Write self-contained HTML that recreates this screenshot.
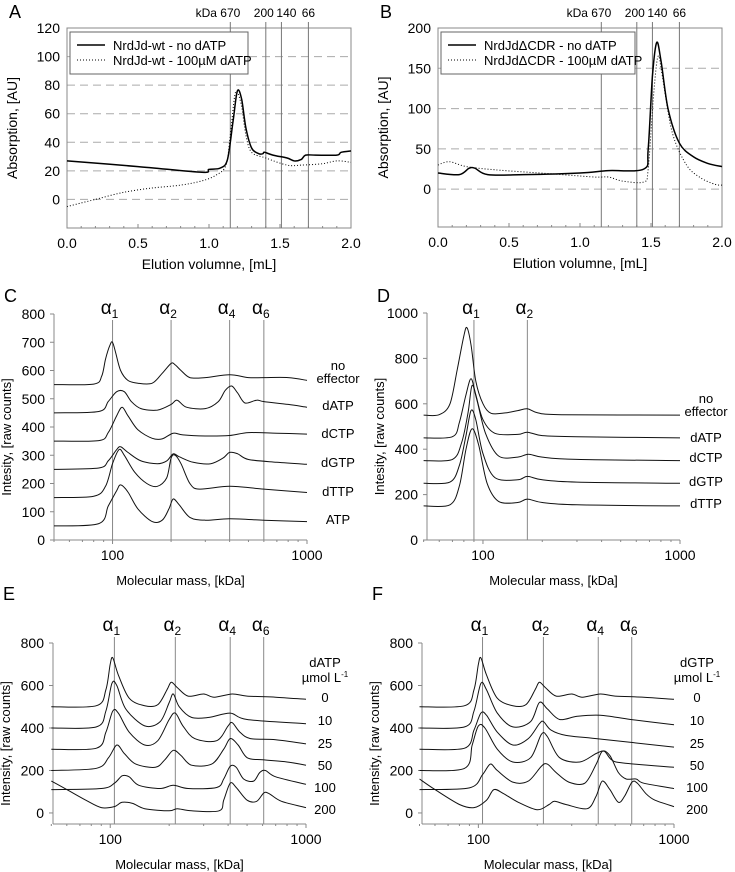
<!DOCTYPE html>
<html><head><meta charset="utf-8"><style>
html,body{margin:0;padding:0;background:#fff;}
svg{display:block;font-family:"Liberation Sans",sans-serif;}
</style></head><body>
<svg id="fig" width="735" height="872" viewBox="0 0 735 872" xmlns="http://www.w3.org/2000/svg"></svg>
<script>
// ---------- DATA ----------
// Panel A (elution volume mL, absorption AU)
const aSolidX=[0,0.5,0.95,1.0,1.08,1.13,1.17,1.2,1.23,1.26,1.3,1.35,1.38,1.39,1.45,1.55,1.6,1.65,1.68,1.75,1.9,1.93,2.0];
const aSolidY=[27,23,19,21,22,28,55,76,70,50,36,32,32,33,31,29,27,28,31,31,31,33,34];
const aDotX=[0,0.2,0.4,0.6,0.8,0.95,1.05,1.12,1.15,1.18,1.2,1.23,1.26,1.3,1.4,1.55,1.65,1.8,1.9,2.0];
const aDotY=[-5,0,5,8,10,13,17,24,45,72,75,65,45,33,29,24,24,25,27,26];
// Panel B
const bSolidX=[0,0.15,0.22,0.26,0.35,0.6,1.0,1.2,1.45,1.48,1.51,1.54,1.57,1.62,1.7,1.8,1.9,2.0];
const bSolidY=[20,18,26,26,18,18,20,23,25,50,140,182,160,100,57,40,32,28];
const bDotX=[0,0.08,0.2,0.4,0.8,1.1,1.2,1.3,1.45,1.48,1.52,1.55,1.58,1.65,1.75,1.85,1.95,2.0];
const bDotY=[30,34,28,24,19,15,15,10,9,25,120,165,140,70,30,14,6,5];
const markerVol=[1.15,1.40,1.51,1.70];
const markerLbl=["670","200","140","66"];
// Panel C (mass kDa, intensity)
const cLabels=["no effector","dATP","dCTP","dGTP","dTTP","ATP"];
const cMass=[
[50,80,88,92,97,100,104,110,120,135,160,180,200,210,225,250,300,400,500,600,800,1000],
[50,85,95,105,115,125,140,170,200,215,240,300,350,380,410,440,480,550,600,800,1000],
[50,85,95,105,112,120,135,160,180,205,230,300,400,500,700,1000],
[50,85,95,105,110,120,140,170,190,205,220,260,320,370,400,440,500,700,1000],
[50,80,92,100,108,115,130,150,170,190,200,210,225,250,280,400,600,1000],
[50,85,95,105,110,120,135,160,180,195,205,220,250,300,400,600,1000]];
const cInt=[
[550,552,580,640,690,700,660,600,565,555,555,590,625,620,600,575,575,585,575,575,575,565],
[450,455,490,525,525,490,465,460,480,495,470,465,490,530,545,520,485,495,490,480,470],
[350,352,380,440,470,440,390,360,358,378,372,368,370,380,378,375],
[250,255,280,320,330,310,280,270,280,305,295,275,270,290,310,305,285,275,268],
[150,155,190,270,320,300,240,200,190,220,290,300,270,200,180,190,180,168],
[50,58,120,175,195,170,110,65,70,110,145,125,80,70,75,70,65]];
const cAlpha=[100,200,400,600];
// Panel D
const dLabels=["no effector","dATP","dCTP","dGTP","dTTP"];
const dMass=[
[50,60,68,74,80,83,87,92,100,110,130,150,168,190,250,1000],
[50,70,76,82,87,92,100,115,150,168,200,300,1000],
[50,70,78,84,88,93,103,120,150,170,200,300,1000],
[50,68,76,82,87,92,100,115,150,168,200,300,1000],
[50,68,76,82,88,95,105,120,150,168,200,300,1000]];
const dInt=[
[550,552,600,750,900,935,860,700,600,558,560,570,578,560,552,550],
[450,455,520,640,710,640,530,470,465,475,460,455,450],
[350,355,430,560,680,620,470,370,365,378,365,355,350],
[250,255,330,460,570,530,380,275,265,280,265,255,250],
[150,155,240,400,490,420,250,170,165,180,165,155,150]];
const dAlpha=[90,168];
// Panel E (dATP titration)
const eLabels=["0","10","25","50","100","200"];
const eMass=[
[50,85,95,100,103,110,125,150,175,195,205,220,250,300,340,420,500,700,1000],
[50,85,95,102,108,120,150,180,200,210,225,260,320,410,500,1000],
[50,85,95,103,110,125,150,175,200,215,235,270,350,400,420,460,520,700,1000],
[50,85,98,108,118,135,170,190,210,230,260,330,380,410,450,500,600,800,1000],
[50,90,105,115,125,140,180,210,250,350,380,410,440,480,540,580,620,700,1000],
[50,60,75,90,105,115,130,150,200,220,260,360,380,410,440,500,560,610,650,750,1000]];
const eInt=[
[500,505,580,700,730,650,540,505,510,580,615,590,550,560,545,560,550,545,535],
[400,405,480,610,600,490,410,430,520,560,500,450,450,470,440,420],
[300,305,380,480,470,380,320,340,440,470,410,350,340,410,425,380,350,345,325],
[200,210,260,320,280,230,215,250,295,270,225,230,300,350,320,260,250,240,225],
[110,115,140,175,170,130,115,130,115,120,160,220,215,160,150,190,200,170,135],
[150,110,60,25,30,50,45,20,10,20,10,10,60,140,120,60,55,95,90,55,25]];
// Panel F (dGTP titration)
const fMass=[
[50,85,95,100,103,110,125,150,175,195,205,220,250,300,340,420,500,700,1000],
[50,85,95,103,110,125,150,185,205,225,260,320,420,600,1000],
[50,85,95,103,110,125,150,180,205,215,235,280,400,1000],
[50,85,93,100,108,125,150,185,210,225,260,330,400,440,480,550,1000],
[50,90,105,115,125,150,180,210,225,250,290,350,400,430,470,520,570,640,700,1000],
[50,60,80,95,110,120,135,160,200,230,245,280,360,400,430,470,520,560,610,650,720,800,1000]];
const fInt=[
[500,505,580,700,730,650,540,505,510,580,615,590,550,560,545,560,550,545,535],
[400,405,480,610,580,470,405,430,520,490,440,455,460,440,415],
[300,305,390,470,460,380,320,350,420,430,390,365,350,310],
[200,210,320,410,400,300,240,260,370,360,260,240,280,290,250,235,215],
[110,118,180,230,200,145,150,220,230,190,145,140,230,290,270,190,160,160,140,115],
[160,110,40,25,60,110,90,50,15,40,55,40,20,80,150,110,50,80,145,140,90,60,30]];
const eAlpha=[105,215,410,608];

// ---------- HELPERS ----------
const NS="http://www.w3.org/2000/svg";
const svg=document.getElementById('fig');
function el(tag,attrs,parent){const e=document.createElementNS(NS,tag);for(const k in attrs)e.setAttribute(k,attrs[k]);(parent||svg).appendChild(e);return e;}
function txt(x,y,s,size,anchor,parent){const t=el('text',{x:x,y:y,'font-size':size,'text-anchor':anchor||'middle',fill:'#000'},parent);t.textContent=s;return t;}
function linScale(d0,d1,r0,r1){return v=>r0+(v-d0)/(d1-d0)*(r1-r0);}
function logScale(d0,d1,r0,r1){return v=>r0+(Math.log10(v)-Math.log10(d0))/(Math.log10(d1)-Math.log10(d0))*(r1-r0);}
// smooth path (cardinal spline through data points)
function pathD(xs,ys,sx,sy){
  const P=xs.map((v,i)=>[sx(v),sy(ys[i])]);
  let d='M'+P[0][0].toFixed(1)+','+P[0][1].toFixed(1);
  const k=0.16;
  for(let i=0;i<P.length-1;i++){
    const p0=P[i-1]||P[i],p1=P[i],p2=P[i+1],p3=P[i+2]||P[i+1];
    const c1=[p1[0]+(p2[0]-p0[0])*k,p1[1]+(p2[1]-p0[1])*k];
    const c2=[p2[0]-(p3[0]-p1[0])*k,p2[1]-(p3[1]-p1[1])*k];
    d+='C'+c1[0].toFixed(1)+','+c1[1].toFixed(1)+' '+c2[0].toFixed(1)+','+c2[1].toFixed(1)+' '+p2[0].toFixed(1)+','+p2[1].toFixed(1);
  }
  return d;
}

// ---------- SEC PANELS A/B ----------
function secPanel(o){
  const g=el('g',{});
  
  
  const sx=linScale(0,2,o.x0,o.x1), sy=linScale(o.ymin,o.ymax,o.y1,o.y0);
  txt(o.x0-58,18,o.letter,18,'start',g);
  o.yticks.forEach(v=>{
    if(v>o.ymin && v<o.ymax) {const l=el('line',{x1:o.x0,x2:o.x1,y1:sy(v),y2:sy(v),stroke:'#aaa','stroke-dasharray':'8,5','stroke-width':1},g);
    }
    txt(o.x0-7,sy(v)+5,String(v),14,'end',g);
  });
  const fr=el('rect',{x:o.x0,y:o.y0,width:o.x1-o.x0,height:o.y1-o.y0,fill:'none',stroke:'#888','stroke-width':1},g);
  
  for(let i=0;i<=20;i++){const x=sx(i*0.1);el('line',{x1:x,x2:x,y1:o.y1,y2:o.y1-(i%5?2:4),stroke:'#888'},g);}
  [0,0.5,1,1.5,2].forEach(v=>txt(sx(v),o.y1+20,v.toFixed(1),14,'middle',g));
  txt((o.x0+o.x1)/2,o.y1+41,'Elution volumne, [mL]',14,'middle',g);
  const yt=txt(0,0,'Absorption, [AU]',14,'middle',g);
  yt.setAttribute('transform','translate('+(o.x0-50)+','+((o.y0+o.y1)/2)+') rotate(-90)');
  
  txt(sx(markerVol[0])-24,17,'kDa',12,'middle',g);
  const off=[0,-2,5,0];
  markerVol.forEach((v,i)=>{
    const l=el('line',{x1:sx(v),x2:sx(v),y1:o.y0-6,y2:o.y1,stroke:'#777','stroke-width':1},g);
    
    txt(sx(v)+off[i],17,markerLbl[i],12,'middle',g);
  });
  const p1=el('path',{d:pathD(o.sX,o.sY,sx,sy),fill:'none',stroke:'#000','stroke-width':1.5},g);
  
  const p2=el('path',{d:pathD(o.dX,o.dY,sx,sy),fill:'none',stroke:'#000','stroke-width':1,'stroke-dasharray':'1,2'},g);
  
  const lg=el('g',{},g);
  
  el('rect',{x:o.lx,y:32,width:o.lw,height:42,fill:'#fff',stroke:'#666'},lg);
  el('line',{x1:o.lx+7,x2:o.lx+35,y1:45,y2:45,stroke:'#000','stroke-width':1.5},lg);
  el('line',{x1:o.lx+7,x2:o.lx+35,y1:60,y2:60,stroke:'#000','stroke-dasharray':'1,2'},lg);
  txt(o.lx+43,50,o.leg[0],13,'start',lg);
  txt(o.lx+43,65,o.leg[1],13,'start',lg);
}
secPanel({name:'panel-a',letter:'A',x0:67,x1:351,y0:28,y1:228,ymin:-20,ymax:120,yticks:[0,20,40,60,80,100,120],
  sX:aSolidX,sY:aSolidY,dX:aDotX,dY:aDotY,lx:70,lw:178,leg:['NrdJd-wt - no dATP','NrdJd-wt - 100µM dATP']});
secPanel({name:'panel-b',letter:'B',x0:438,x1:722,y0:28,y1:227,ymin:-47,ymax:200,yticks:[0,50,100,150,200],
  sX:bSolidX,sY:bSolidY,dX:bDotX,dY:bDotY,lx:441,lw:194,leg:['NrdJd\u0394CDR - no dATP','NrdJd\u0394CDR - 100µM dATP']});

// ---------- MASS PANELS ----------
function massPanel(o){
  const g=el('g',{});
  
  
  const sx=logScale(o.m0,1000,o.x0,o.x1), sy=linScale(o.ymin,o.ymax,o.y1,o.yTop);
  txt(o.x0-50,o.letterY,o.letter,18,'start',g);
  el('line',{x1:o.x0,x2:o.x0,y1:o.yTop,y2:o.y1,stroke:'#888'},g);
  el('line',{x1:o.x0,x2:o.x1,y1:o.y1,y2:o.y1,stroke:'#888'},g);
  o.yticks.forEach(v=>{el('line',{x1:o.x0-4,x2:o.x0,y1:sy(v),y2:sy(v),stroke:'#888'},g);txt(o.x0-9,sy(v)+5,String(v),14,'end',g);});
  for(let d=50;d<=1000;d+= (d<100?10:100)){const x=sx(d);el('line',{x1:x,x2:x,y1:o.y1,y2:o.y1+(d==100||d==1000?4:2),stroke:'#888'},g);}
  txt(sx(100),o.y1+20,'100',14,'middle',g);
  txt(sx(1000),o.y1+20,'1000',14,'middle',g);
  const xt=txt((o.x0+o.x1)/2,o.y1+45,'Molecular mass, [kDa]',13,'middle',g);
  
  const yt=txt(0,0,o.ytitle,13,'middle',g);
  yt.setAttribute('transform','translate('+(o.x0-43)+','+((o.yTop+o.y1)/2+10)+') rotate(-90)');
  
  const sub=['1','2','4','6'];
  o.alpha.forEach((m,i)=>{
    const l=el('line',{x1:sx(m),x2:sx(m),y1:o.alphaY+6,y2:o.y1,stroke:'#888'},g);
    
    const t=el('text',{x:sx(m)-3,y:o.alphaY,'font-size':19,'text-anchor':'middle'},g);
    t.textContent='\u03B1';
    const ts=el('tspan',{'font-size':12,dy:4},t);ts.textContent=sub[i];
  });
  o.mass.forEach((ms,i)=>{
    const p=el('path',{d:pathD(ms,o.ints[i],sx,sy),fill:'none',stroke:'#111','stroke-width':1},g);
    
    
  });
  o.labelPos.forEach((lp,i)=>{
    const parts=o.labels[i].split(' ');
    if(parts.length==2 && parts[0]=='no'){txt(o.labX,lp-13,'no',13,'middle',g);txt(o.labX,lp,'effector',13,'middle',g);}
    else txt(o.labX,lp,o.labels[i],13,'middle',g);
  });
  if(o.head){txt(o.labX,o.headY,o.head,13,'middle',g);
    const t=el('text',{x:o.labX,y:o.headY+15,'font-size':13,'text-anchor':'middle'},g);t.textContent='µmol L';
    const ts=el('tspan',{'font-size':8,dy:-5},t);ts.textContent='-1';}
}
massPanel({name:'panel-c',letter:'C',letterY:302,x0:54,x1:307,m0:50,yTop:314,y1:540,ymin:0,ymax:800,yticks:[0,100,200,300,400,500,600,700,800],
  ytitle:'Intesity, [raw counts]',alpha:cAlpha,alphaY:314,mass:cMass,ints:cInt,labels:cLabels,labX:338,labelPos:[383,410,438,467,496,524]});
massPanel({name:'panel-d',letter:'D',letterY:302,x0:427,x1:680,m0:52,yTop:313,y1:540,ymin:0,ymax:1000,yticks:[0,200,400,600,800,1000],
  ytitle:'Intesity, [raw counts]',alpha:dAlpha,alphaY:314,mass:dMass,ints:dInt,labels:dLabels,labX:706,labelPos:[416,442,462,486,508]});
massPanel({name:'panel-e',letter:'E',letterY:600,x0:53,x1:306,m0:51,yTop:643,y1:824,ymin:-52,ymax:800,yticks:[0,200,400,600,800],
  ytitle:'Intensity, [raw counts]',alpha:eAlpha,alphaY:631,mass:eMass,ints:eInt,labels:eLabels,labX:325,labelPos:[702,725,748,770,792,814],head:'dATP',headY:667});
massPanel({name:'panel-f',letter:'F',letterY:600,x0:422,x1:674,m0:51.5,yTop:643,y1:824,ymin:-52,ymax:800,yticks:[0,200,400,600,800],
  ytitle:'Intensity, [raw counts]',alpha:eAlpha,alphaY:631,mass:fMass,ints:fInt,labels:eLabels,labX:697,labelPos:[702,725,748,770,792,814],head:'dGTP',headY:667});
</script>
</body></html>
